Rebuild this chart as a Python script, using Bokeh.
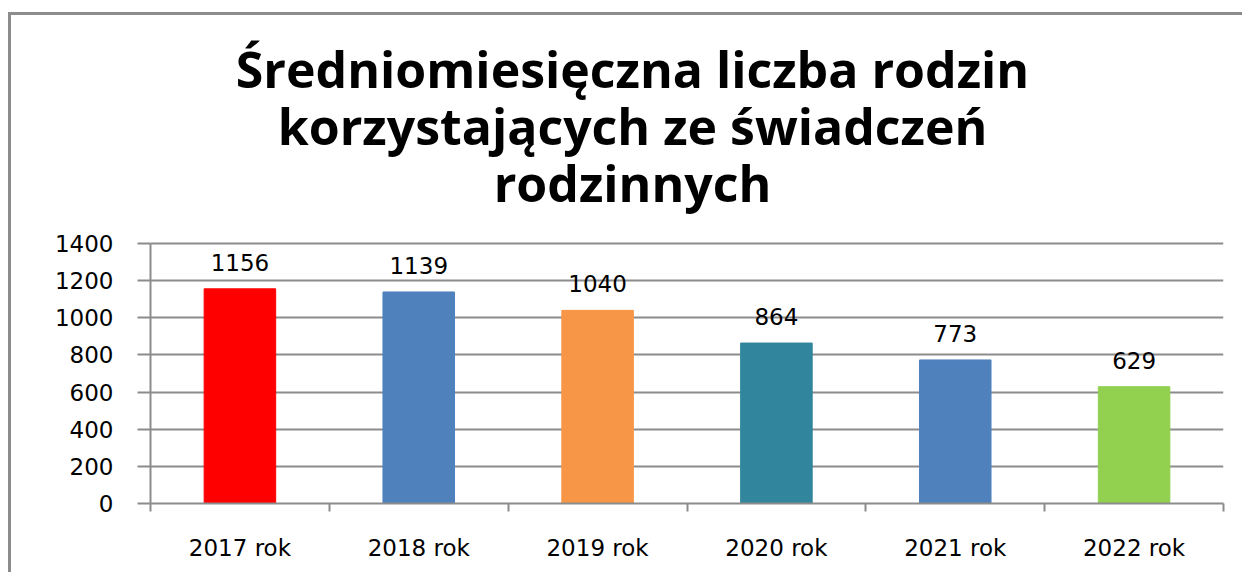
from bokeh.plotting import figure
from bokeh.models import FixedTicker, Label, ColumnDataSource, Range1d
from bokeh.core.properties import value
from bokeh.embed import file_html
from bokeh.resources import INLINE

categories = ["2017 rok", "2018 rok", "2019 rok", "2020 rok", "2021 rok", "2022 rok"]
values = [1156, 1139, 1040, 864, 773, 629]
colors = ["#FF0000", "#4F81BD", "#F79646", "#31859C", "#4F81BD", "#92D050"]
y_ticks = [0, 200, 400, 600, 800, 1000, 1200, 1400]
title_lines = ["Średniomiesięczna liczba rodzin", "korzystających ze świadczeń", "rodzinnych"]

xs = [i + 0.5 for i in range(len(categories))]
src = ColumnDataSource(dict(x=xs, top=values, color=colors, label=[str(v) for v in values]))

GRID = "#8c8c8c"
FONT = "DejaVu Sans"

# layout: frame spans the title area too; the value axis occupies its lower 260 px
FRAME_H = 480
AXIS_H = 260
y_max = y_ticks[-1] * FRAME_H / AXIS_H

p = figure(width=1234, height=560, output_backend="svg", toolbar_location=None,
           x_range=Range1d(0, len(categories)), y_range=Range1d(0, y_max),
           min_border_left=139, min_border_right=22, min_border_top=8, min_border_bottom=72,
           tools="")
p.styles = {"border-top": "3px solid #8c8c8c", "border-left": "3px solid #8c8c8c",
            "margin-top": "12px", "margin-left": "8px"}
p.outline_line_color = None

p.vbar(x="x", top="top", width=0.4, color="color", source=src)
p.text(x="x", y="top", text="label", source=src, text_align="center", text_baseline="bottom",
       y_offset=-18, text_font_size="23px", text_font=value(FONT), text_color="black")

# title lines (screen units measured from the frame's bottom-left corner)
title_y = [435, 378, 321]
for line, ty in zip(title_lines, title_y):
    p.add_layout(Label(x=482, y=ty, x_units="screen", y_units="screen", text=line,
                       text_align="center", text_baseline="middle", text_font="Open Sans",
                       text_font_style="bold", text_font_size="50px", text_color="black"))

# y axis
p.yaxis.ticker = FixedTicker(ticks=y_ticks)
p.yaxis.bounds = (y_ticks[0], y_ticks[-1])
p.yaxis.axis_line_color = GRID
p.yaxis.axis_line_width = 2
p.yaxis.major_tick_line_color = GRID
p.yaxis.major_tick_line_width = 2
p.yaxis.major_tick_out = 13
p.yaxis.major_tick_in = 0
p.yaxis.minor_tick_line_color = None
p.yaxis.major_label_standoff = 24
p.yaxis.major_label_text_font = FONT
p.yaxis.major_label_text_font_size = "23px"
p.yaxis.major_label_text_color = "black"

# x axis: labels at centers, minor ticks at category boundaries
p.xaxis.ticker = FixedTicker(ticks=xs, minor_ticks=list(range(len(categories) + 1)))
p.xaxis.major_label_overrides = {x: c for x, c in zip(xs, categories)}
p.xaxis.axis_line_color = GRID
p.xaxis.axis_line_width = 2
p.xaxis.major_tick_line_color = None
p.xaxis.major_tick_out = 0
p.xaxis.major_tick_in = 0
p.xaxis.minor_tick_line_color = GRID
p.xaxis.minor_tick_line_width = 2
p.xaxis.minor_tick_out = 8
p.xaxis.minor_tick_in = 0
p.xaxis.major_label_standoff = 23
p.xaxis.major_label_text_font = FONT
p.xaxis.major_label_text_font_size = "23px"
p.xaxis.major_label_text_color = "black"

p.xgrid.grid_line_color = None
p.ygrid.ticker = FixedTicker(ticks=y_ticks)
p.ygrid.grid_line_color = GRID
p.ygrid.grid_line_width = 2
p.ygrid.grid_line_alpha = 1.0

open("out.html", "w").write(file_html(p, INLINE))
